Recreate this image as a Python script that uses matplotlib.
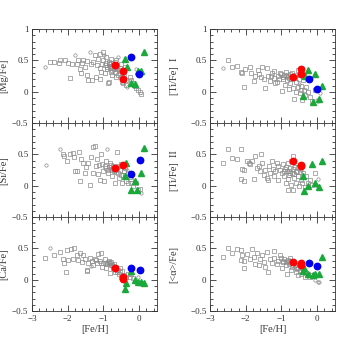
import numpy as np
import matplotlib.pyplot as plt
from matplotlib.ticker import MultipleLocator, FixedLocator, FuncFormatter

plt.rcParams['font.family'] = ['Liberation Serif', 'DejaVu Serif']
plt.rcParams['mathtext.fontset'] = 'stix'

# ---- field stars (gray open squares), one list per panel: (feh, x/fe)
mg_sq = [(-2.49, 0.47), (-2.37, 0.48), (-2.21, 0.51), (-2.07, 0.51), (-1.98, 0.46),
         (-1.94, 0.22), (-1.87, 0.44), (-1.75, 0.44), (-1.70, 0.51), (-1.66, 0.36),
         (-1.61, 0.46), (-1.56, 0.51), (-1.52, 0.40), (-1.63, 0.30), (-1.47, 0.27),
         (-1.43, 0.19), (-1.33, 0.19), (-1.29, 0.48), (-1.24, 0.59), (-1.19, 0.43),
         (-1.15, 0.53), (-1.10, 0.61), (-1.10, 0.38), (-1.06, 0.32), (-1.10, 0.20),
         (-1.01, 0.64), (-1.01, 0.51), (-0.96, 0.43), (-0.96, 0.30), (-0.92, 0.56),
         (-0.89, 0.36), (-0.85, 0.48), (-0.82, 0.41), (-0.80, 0.32), (-0.78, 0.53),
         (-0.76, 0.27), (-0.73, 0.45), (-0.70, 0.37), (-0.67, 0.32), (-0.64, 0.51),
         (-0.64, 0.24), (-0.61, 0.43), (-0.57, 0.35), (-0.55, 0.30), (-0.52, 0.45),
         (-0.50, 0.24), (-0.48, 0.16), (-0.45, 0.14), (-0.39, 0.39), (-0.36, 0.19),
         (-0.36, 0.11), (-0.27, 0.24), (-0.22, 0.19), (-0.18, 0.14), (-0.13, 0.09),
         (-0.08, 0.06), (-0.04, 0.03), (0.01, -0.01), (0.04, -0.04), (-0.87, 0.14),
         (-0.85, 0.16), (-0.84, 0.44), (-0.81, 0.38), (-0.79, 0.46), (-0.77, 0.40),
         (-0.75, 0.35), (-0.72, 0.42), (-0.69, 0.47), (-0.66, 0.39), (-0.62, 0.37),
         (-0.58, 0.27), (-0.54, 0.38), (-0.93, 0.46), (-0.91, 0.40), (-1.20, 0.24),
         (-1.36, 0.45), (-1.45, 0.49), (-2.25, 0.46), (-1.03, 0.45), (-0.42, 0.26)]
mg_ci = [(-2.63, 0.40), (-1.80, 0.59), (-1.38, 0.63), (-0.98, 0.58), (-0.60, 0.56),
         (-0.46, 0.29), (-0.33, 0.08), (-0.10, 0.37)]

ti1_sq = [(-2.49, 0.51), (-2.38, 0.39), (-2.24, 0.41), (-2.12, 0.32), (-2.10, 0.30),
          (-2.06, 0.07), (-2.01, 0.36), (-1.87, 0.40), (-1.85, 0.30), (-1.78, 0.18),
          (-1.73, 0.25), (-1.66, 0.35), (-1.62, 0.29), (-1.55, 0.40), (-1.50, 0.20),
          (-1.46, 0.06), (-1.41, 0.38), (-1.38, 0.25), (-1.32, 0.18), (-1.27, 0.30),
          (-1.22, 0.22), (-1.20, 0.34), (-1.13, 0.16), (-1.09, 0.25), (-1.04, 0.30),
          (-0.99, 0.02), (-0.97, 0.20), (-0.92, 0.27), (-0.88, 0.32), (-0.85, 0.19),
          (-0.83, 0.23), (-0.79, 0.04), (-0.76, 0.14), (-0.73, 0.25), (-0.67, 0.06),
          (-0.64, -0.12), (-0.60, 0.15), (-0.58, 0.00), (-0.55, 0.35), (-0.53, 0.08),
          (-0.48, -0.02), (-0.46, 0.03), (-0.42, -0.13), (-0.39, 0.19), (-0.34, -0.05),
          (-0.30, 0.08), (-0.25, 0.00), (-0.21, -0.08), (-0.16, -0.15), (-0.07, 0.03),
          (-1.18, 0.14), (-0.90, 0.11), (-0.81, 0.27), (-0.78, 0.22), (-0.75, 0.28),
          (-0.72, 0.20), (-0.70, 0.30), (-0.68, 0.24), (-0.63, 0.27), (-0.86, 0.25),
          (-0.95, 0.23), (-1.00, 0.28), (-1.06, 0.21), (-0.62, 0.22), (-0.52, 0.20),
          (-0.44, 0.10), (-0.37, 0.03), (-1.58, 0.24), (-1.30, 0.26)]
ti1_ci = [(-2.64, 0.38), (-0.02, -0.13), (0.03, -0.15), (0.07, -0.02), (-0.50, 0.13)]

si_sq = [(-2.12, 0.51), (-2.09, 0.48), (-2.03, 0.39), (-1.94, 0.50), (-1.84, 0.52),
         (-1.81, 0.46), (-1.80, 0.24), (-1.75, 0.23), (-1.69, 0.54), (-1.63, 0.42),
         (-1.66, 0.07), (-1.56, 0.36), (-1.52, 0.20), (-1.50, 0.30), (-1.43, 0.37),
         (-1.38, 0.02), (-1.35, 0.46), (-1.29, 0.62), (-1.24, 0.64), (-1.29, 0.21),
         (-1.22, 0.31), (-1.19, 0.42), (-1.15, 0.19), (-1.10, 0.10), (-1.07, 0.51),
         (-1.04, 0.34), (-1.01, 0.24), (-0.98, 0.07), (-0.94, 0.39), (-0.92, 0.28),
         (-0.87, 0.20), (-0.82, 0.36), (-0.80, 0.27), (-0.76, 0.16), (-0.73, 0.32),
         (-0.70, 0.23), (-0.67, 0.05), (-0.64, 0.30), (-0.61, 0.54), (-0.59, 0.20),
         (-0.57, 0.12), (-0.55, 0.26), (-0.52, 0.18), (-0.50, 0.34), (-0.48, 0.04),
         (-0.43, 0.23), (-0.39, 0.14), (-0.36, 0.07), (-0.31, 0.20), (-0.30, 0.04),
         (-0.24, 0.11), (-0.22, 0.05), (-0.18, -0.01), (-0.08, 0.04), (-0.04, -0.06),
         (0.01, -0.05), (-0.85, 0.30), (-0.78, 0.33), (-0.75, 0.26), (-0.72, 0.29),
         (-0.68, 0.25), (-0.65, 0.22), (-0.62, 0.28), (-0.58, 0.31), (-0.88, 0.26),
         (-1.12, 0.33), (-0.95, 0.31), (-0.46, 0.17), (-0.40, 0.28), (-0.27, 0.14)]
si_ci = [(-2.61, 0.33), (-2.21, 0.59), (-0.89, 0.58), (0.06, -0.11), (-0.33, 0.25)]

ti2_sq = [(-2.64, 0.37), (-2.49, 0.59), (-2.38, 0.44), (-2.24, 0.42), (-2.12, 0.58),
          (-2.10, 0.27), (-2.06, 0.25), (-2.12, 0.11), (-2.06, 0.08), (-1.97, 0.39),
          (-1.92, 0.36), (-1.87, 0.34), (-1.83, 0.40), (-1.78, 0.11), (-1.73, 0.48),
          (-1.69, 0.28), (-1.64, 0.32), (-1.59, 0.23), (-1.57, 0.50), (-1.53, 0.36),
          (-1.50, 0.18), (-1.46, 0.26), (-1.41, 0.12), (-1.38, 0.09), (-1.34, 0.31),
          (-1.32, 0.20), (-1.27, 0.39), (-1.25, 0.27), (-1.22, 0.15), (-1.18, 0.23),
          (-1.13, 0.36), (-1.10, 0.31), (-1.09, 0.10), (-1.04, 0.25), (-0.99, 0.20),
          (-0.97, 0.34), (-0.92, 0.15), (-0.90, 0.27), (-0.88, 0.04), (-0.85, 0.23),
          (-0.83, 0.36), (-0.81, 0.11), (-0.79, 0.18), (-0.76, 0.28), (-0.73, 0.02),
          (-0.72, 0.40), (-0.70, 0.20), (-0.67, 0.47), (-0.64, 0.12), (-0.60, 0.23),
          (-0.58, 0.05), (-0.55, 0.16), (-0.53, 0.30), (-0.51, -0.01), (-0.46, 0.10),
          (-0.42, 0.05), (-0.39, 0.20), (-0.34, -0.02), (-0.30, 0.15), (-0.25, 0.04),
          (-0.21, 0.10), (-0.16, 0.02), (-0.07, 0.20), (-0.81, -0.06), (-0.67, -0.06),
          (-0.78, 0.24), (-0.75, 0.21), (-0.69, 0.27), (-0.66, 0.19), (-0.62, 0.30),
          (-0.86, 0.30), (-0.94, 0.24), (-0.57, 0.22), (-0.48, 0.22)]
ti2_ci = [(-0.02, -0.01), (0.03, 0.11), (-0.44, 0.25)]

ca_sq = [(-2.63, 0.35), (-2.37, 0.39), (-2.21, 0.44), (-2.12, 0.33), (-2.09, 0.26),
         (-2.06, 0.13), (-2.03, 0.48), (-1.98, 0.32), (-1.91, 0.49), (-1.84, 0.33),
         (-1.81, 0.51), (-1.75, 0.40), (-1.70, 0.32), (-1.66, 0.42), (-1.61, 0.29),
         (-1.56, 0.39), (-1.52, 0.33), (-1.47, 0.16), (-1.43, 0.26), (-1.38, 0.35),
         (-1.33, 0.30), (-1.29, 0.23), (-1.24, 0.33), (-1.19, 0.26), (-1.15, 0.41),
         (-1.10, 0.30), (-1.06, 0.42), (-1.04, 0.21), (-1.01, 0.26), (-0.96, 0.33),
         (-0.92, 0.19), (-0.89, 0.25), (-0.85, 0.30), (-0.82, 0.11), (-0.80, 0.23),
         (-0.78, 0.29), (-0.73, 0.19), (-0.70, 0.25), (-0.67, 0.12), (-0.64, 0.21),
         (-0.61, 0.16), (-0.57, 0.09), (-0.55, 0.19), (-0.50, 0.05), (-0.48, 0.14),
         (-0.43, 0.08), (-0.36, 0.05), (-0.31, 0.10), (-0.27, 0.04), (-0.22, 0.09),
         (-0.18, 0.03), (-1.45, 0.14), (-0.88, 0.29), (-0.84, 0.26), (-0.81, 0.27),
         (-0.76, 0.24), (-0.74, 0.22), (-0.71, 0.20), (-0.68, 0.18), (-0.62, 0.13),
         (-0.59, 0.16), (-0.53, 0.12), (-0.94, 0.27), (-1.08, 0.26), (-1.20, 0.31)]
ca_ci = [(-2.49, 0.50), (-0.04, 0.05), (-0.45, 0.06), (-1.35, 0.22)]

al_sq = [(-2.64, 0.37), (-2.49, 0.51), (-2.38, 0.42), (-2.24, 0.49), (-2.12, 0.48),
         (-2.10, 0.39), (-2.12, 0.32), (-2.06, 0.30), (-2.06, 0.18), (-1.97, 0.41),
         (-1.87, 0.33), (-1.83, 0.49), (-1.78, 0.37), (-1.73, 0.25), (-1.69, 0.42),
         (-1.64, 0.23), (-1.59, 0.33), (-1.55, 0.39), (-1.50, 0.28), (-1.46, 0.21),
         (-1.41, 0.45), (-1.38, 0.12), (-1.32, 0.33), (-1.27, 0.26), (-1.22, 0.46),
         (-1.20, 0.35), (-1.13, 0.25), (-1.09, 0.30), (-1.04, 0.39), (-0.99, 0.19),
         (-0.97, 0.28), (-0.92, 0.33), (-0.88, 0.23), (-0.85, 0.09), (-0.83, 0.30),
         (-0.79, 0.25), (-0.76, 0.35), (-0.73, 0.16), (-0.70, 0.21), (-0.64, 0.26),
         (-0.60, 0.12), (-0.58, 0.20), (-0.55, 0.08), (-0.51, 0.24), (-0.48, 0.14),
         (-0.44, 0.09), (-0.39, 0.18), (-0.34, 0.05), (-0.27, 0.10), (-0.21, 0.05),
         (-0.16, 0.07), (-0.09, 0.08), (-0.81, 0.31), (-0.78, 0.28), (-0.74, 0.27),
         (-0.72, 0.30), (-0.67, 0.23), (-0.62, 0.24), (-0.87, 0.28), (-0.95, 0.30),
         (-1.02, 0.34), (-0.57, 0.17), (-0.53, 0.19)]
al_ci = [(-0.05, -0.01), (0.01, -0.03), (0.05, -0.04), (-0.41, 0.13)]

# ---- programme stars: red, blue (filled circles) and green (triangles)
mg_red = [(-0.69, 0.43), (-0.44, 0.33), (-0.44, 0.21)]
mg_blue = [(-0.22, 0.56), (0.00, 0.29)]
mg_green = [(-0.39, 0.52), (-0.33, 0.40), (-0.22, 0.14), (-0.11, 0.13),
            (-0.03, 0.33), (0.05, 0.33), (0.14, 0.64)]

ti1_red = [(-0.69, 0.24), (-0.44, 0.37), (-0.44, 0.29)]
ti1_blue = [(-0.22, 0.21), (0.00, 0.05)]
ti1_green = [(-0.25, 0.35), (-0.33, 0.25), (-0.06, 0.29), (-0.39, -0.07),
             (-0.11, -0.17), (0.06, -0.12), (0.14, 0.10)]

si_red = [(-0.69, 0.29), (-0.44, 0.33)]
si_blue = [(-0.22, 0.19), (0.03, 0.41)]
si_green = [(-0.36, 0.37), (-0.39, 0.16), (-0.22, -0.07), (-0.11, 0.07),
            (-0.05, -0.07), (0.05, 0.20), (0.14, 0.61)]

ti2_red = [(-0.69, 0.39), (-0.44, 0.33), (-0.44, 0.31)]
ti2_blue = []
ti2_green = [(-0.14, 0.34), (0.14, 0.40), (-0.39, 0.15), (-0.36, -0.08),
             (-0.25, -0.01), (-0.06, 0.05), (0.06, -0.02)]

ca_red = [(-0.69, 0.19), (-0.44, 0.05), (-0.44, 0.02)]
ca_blue = [(-0.22, 0.19), (0.03, 0.16)]
ca_green = [(-0.22, 0.14), (-0.36, -0.05), (-0.39, -0.14), (-0.11, 0.00),
            (-0.03, -0.03), (0.05, -0.03), (0.14, -0.05)]

al_red = [(-0.69, 0.29), (-0.44, 0.26), (-0.44, 0.24)]
al_blue = [(-0.22, 0.27), (0.00, 0.22)]
al_green = [(-0.36, 0.19), (-0.39, 0.14), (-0.25, 0.10), (-0.11, 0.07),
            (-0.06, 0.10), (0.06, 0.10), (0.14, 0.37)]

labels = ['[Mg/Fe]', '[Ti/Fe]  I', '[Si/Fe]', '[Ti/Fe]  II', '[Ca/Fe]', '[<α>/Fe]']
panels = [(mg_sq, mg_ci, mg_red, mg_blue, mg_green),
          (ti1_sq, ti1_ci, ti1_red, ti1_blue, ti1_green),
          (si_sq, si_ci, si_red, si_blue, si_green),
          (ti2_sq, ti2_ci, ti2_red, ti2_blue, ti2_green),
          (ca_sq, ca_ci, ca_red, ca_blue, ca_green),
          (al_sq, al_ci, al_red, al_blue, al_green)]

fig = plt.figure(figsize=(3.43, 3.43), dpi=100)

lefts = [0.093, 0.612]
label_x = [-0.19, -0.25]
width = 0.365
height = 0.274
bottoms = [0.093 + 2 * height, 0.093 + height, 0.093]


def fmt(v, pos):
    if abs(v) < 1e-9:
        return '0'
    return ('%g' % v).replace('-', '\u2212')


for i, (lab, data) in enumerate(zip(labels, panels)):
    row, col = divmod(i, 2)
    ax = fig.add_axes([lefts[col], bottoms[row], width, height])
    sq, ci, red, blue, green = data

    for pts, mk in [(sq, 's'), (ci, 'o')]:
        if pts:
            a = np.array(pts)
            ax.plot(a[:, 0], a[:, 1], mk, ms=2.4, mfc='none', mec='#8c8c8c', mew=0.5)
    if green:
        a = np.array(green)
        ax.plot(a[:, 0], a[:, 1], '^', ms=4.0, color='#1aa83a', mec='#1aa83a')
    if red:
        a = np.array(red)
        ax.plot(a[:, 0], a[:, 1], 'o', ms=4.6, color='#ff0000')
    if blue:
        a = np.array(blue)
        ax.plot(a[:, 0], a[:, 1], 'o', ms=4.6, color='#0000ee')

    ax.set_xlim(-3, 0.5)
    ax.set_ylim(-0.5, 1.0)
    ax.xaxis.set_major_locator(MultipleLocator(1))
    ax.xaxis.set_minor_locator(MultipleLocator(0.2))
    if row == 0:
        ax.yaxis.set_major_locator(FixedLocator([-0.5, 0, 0.5, 1.0]))
    else:
        ax.yaxis.set_major_locator(FixedLocator([-0.5, 0, 0.5]))
    ax.yaxis.set_minor_locator(MultipleLocator(0.1))
    ax.yaxis.set_major_formatter(FuncFormatter(fmt))
    ax.xaxis.set_major_formatter(FuncFormatter(fmt))
    ax.tick_params(which='both', direction='in', top=True, right=True,
                   labelsize=6.5, width=0.6, colors='#333333', labelcolor='#333333')
    ax.tick_params(which='major', length=4.5, pad=2.5)
    ax.tick_params(which='minor', length=2.2)
    for sp in ax.spines.values():
        sp.set_linewidth(0.6)
        sp.set_color('#333333')
    if row < 2:
        ax.tick_params(labelbottom=False)
    else:
        ax.set_xlabel('[Fe/H]', fontsize=7.5, color='#333333', labelpad=2)
    ax.set_ylabel(lab, fontsize=7.5, color='#333333')
    ax.yaxis.set_label_coords(label_x[col], 0.5)

fig.savefig('out.png', dpi=100)
